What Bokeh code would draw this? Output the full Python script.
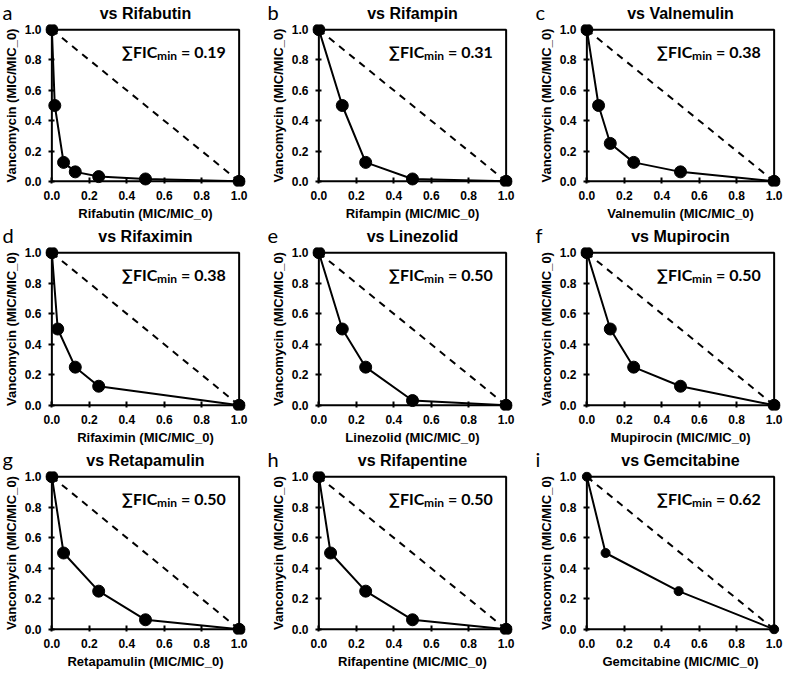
from bokeh.plotting import figure
from bokeh.layouts import gridplot
from bokeh.models import Range1d, FixedTicker, PrintfTickFormatter, Label, BoxAnnotation, Title
from bokeh.embed import file_html
from bokeh.resources import INLINE

# ---------------- data ----------------
letters = ["a", "b", "c", "d", "e", "f", "g", "h", "i"]
drugs = ["Rifabutin", "Rifampin", "Valnemulin", "Rifaximin", "Linezolid",
         "Mupirocin", "Retapamulin", "Rifapentine", "Gemcitabine"]
fic_min = ["0.19", "0.31", "0.38", "0.38", "0.50", "0.50", "0.50", "0.50", "0.62"]

x_rifabutin = [0.0, 0.0156, 0.0625, 0.125, 0.25, 0.5, 1.0]
y_rifabutin = [1.0, 0.5, 0.125, 0.0625, 0.03125, 0.0156, 0.0]
x_rifampin = [0.0, 0.125, 0.25, 0.5, 1.0]
y_rifampin = [1.0, 0.5, 0.125, 0.0156, 0.0]
x_valnemulin = [0.0, 0.0625, 0.125, 0.25, 0.5, 1.0]
y_valnemulin = [1.0, 0.5, 0.25, 0.125, 0.0625, 0.0]
x_rifaximin = [0.0, 0.03125, 0.125, 0.25, 1.0]
y_rifaximin = [1.0, 0.5, 0.25, 0.125, 0.0]
x_linezolid = [0.0, 0.125, 0.25, 0.5, 1.0]
y_linezolid = [1.0, 0.5, 0.25, 0.03125, 0.0]
x_mupirocin = [0.0, 0.125, 0.25, 0.5, 1.0]
y_mupirocin = [1.0, 0.5, 0.25, 0.125, 0.0]
x_retapamulin = [0.0, 0.0625, 0.25, 0.5, 1.0]
y_retapamulin = [1.0, 0.5, 0.25, 0.0625, 0.0]
x_rifapentine = [0.0, 0.0625, 0.25, 0.5, 1.0]
y_rifapentine = [1.0, 0.5, 0.25, 0.0625, 0.0]
x_gemcitabine = [0.0, 0.1, 0.49, 1.0]
y_gemcitabine = [1.0, 0.5, 0.25, 0.0]

panel_x = [x_rifabutin, x_rifampin, x_valnemulin, x_rifaximin, x_linezolid,
           x_mupirocin, x_retapamulin, x_rifapentine, x_gemcitabine]
panel_y = [y_rifabutin, y_rifampin, y_valnemulin, y_rifaximin, y_linezolid,
           y_mupirocin, y_retapamulin, y_rifapentine, y_gemcitabine]

# line of additivity
additivity_x = [0.0, 1.0]
additivity_y = [1.0, 0.0]

tick_values = [0.0, 0.2, 0.4, 0.6, 0.8, 1.0]

ARIAL = "Liberation Sans"
CAL = "Lato"

COL_W = [249, 267, 268]
COL_LEFT = [44, 63, 64]
LETTER_OFF = [-43, -45, -45]
ROW_H = [223, 224, 224]


def make_panel(idx):
    col, row = idx % 3, idx // 3
    letter, drug, fic = letters[idx], drugs[idx], fic_min[idx]
    xs, ys = panel_x[idx], panel_y[idx]
    msize = 9 if idx == 8 else 12
    pad = 0.034
    p = figure(width=COL_W[col], height=ROW_H[row],
               x_range=Range1d(-pad, 1 + pad), y_range=Range1d(-pad, 1 + pad),
               toolbar_location=None, output_backend="svg",
               min_border_left=COL_LEFT[col], min_border_right=4,
               min_border_top=0, min_border_bottom=0)
    p.outline_line_color = None
    p.xgrid.visible = False
    p.ygrid.visible = False
    p.background_fill_color = "white"
    p.border_fill_color = "white"

    # drug title (outer row)
    p.title.text = "vs " + drug
    p.title.align = "center"
    p.title.text_font = ARIAL
    p.title.text_font_style = "bold"
    p.title.text_font_size = "16px"
    p.title.text_color = "black"
    p.title.standoff = 5

    # panel letter (inner row of ~zero height, drawn up into the title row)
    p.add_layout(Title(text=letter + "\n", align="left", offset=LETTER_OFF[col],
                       vertical_align="top", standoff=-50,
                       text_font=CAL, text_font_style="normal", text_font_size="20px",
                       text_color="black"), "above")

    for ax, lab in ((p.xaxis[0], drug + " (MIC/MIC_0)"), (p.yaxis[0], "Vancomycin (MIC/MIC_0)")):
        ax.ticker = FixedTicker(ticks=tick_values)
        ax.formatter = PrintfTickFormatter(format="%.1f")
        ax.axis_label = lab
        ax.axis_line_color = None
        ax.major_tick_in = 9
        ax.major_tick_out = -3
        ax.major_tick_line_width = 2
        ax.major_tick_line_color = "black"
        ax.minor_tick_line_color = None
        ax.major_label_text_font = ARIAL
        ax.major_label_text_font_style = "bold"
        ax.major_label_text_font_size = "12px"
        ax.major_label_text_color = "black"
        ax.major_label_standoff = 4
        ax.axis_label_text_font = ARIAL
        ax.axis_label_text_font_style = "bold"
        ax.axis_label_text_font_size = "13px"
        ax.axis_label_text_color = "black"
        ax.axis_label_standoff = 3

    p.add_layout(BoxAnnotation(left=0, right=1, bottom=0, top=1, fill_alpha=0,
                               line_color="black", line_alpha=1.0, line_width=2))

    p.line(additivity_x, additivity_y, line_color="black", line_width=2, line_dash="7 6")
    p.line(xs, ys, line_color="black", line_width=2)
    p.scatter(xs, ys, size=msize, fill_color="black", line_color="black")

    fx, fy = 0.375, 0.855
    p.add_layout(Label(x=fx, y=fy, text="∑FIC", text_font=CAL, text_font_style="bold",
                       text_font_size="16px", text_color="black", text_baseline="alphabetic"))
    p.add_layout(Label(x=fx, y=fy, x_offset=35, y_offset=-4, text="min", text_font=CAL,
                       text_font_style="bold", text_font_size="12px", text_color="black",
                       text_baseline="alphabetic"))
    p.add_layout(Label(x=fx, y=fy, x_offset=59, text="= " + fic, text_font=CAL,
                       text_font_style="bold", text_font_size="16px", text_color="black",
                       text_baseline="alphabetic"))
    return p


figs = [make_panel(i) for i in range(9)]
grid = gridplot([figs[0:3], figs[3:6], figs[6:9]], toolbar_location=None)

open("out.html", "w").write(file_html(grid, INLINE))
